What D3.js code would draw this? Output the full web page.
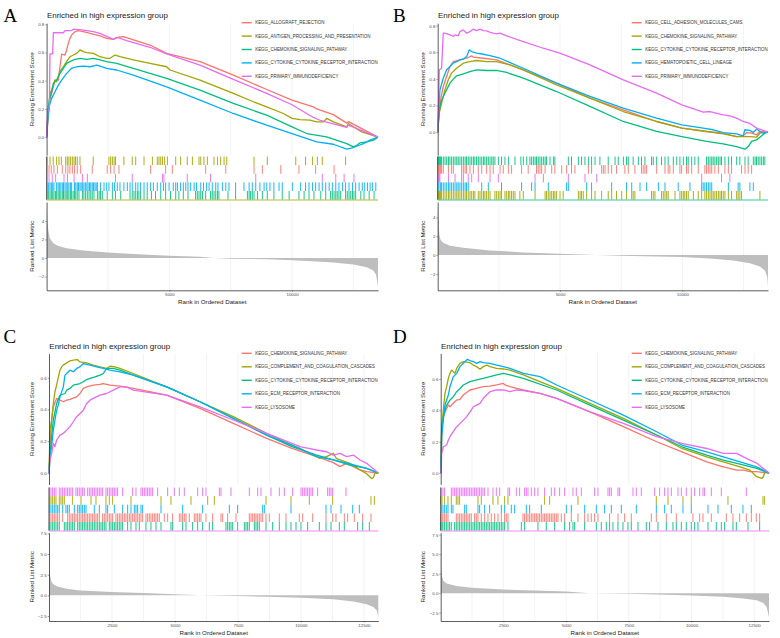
<!DOCTYPE html>
<html>
<head>
<meta charset="utf-8">
<script src="https://cdn.jsdelivr.net/npm/d3@7"></script>
<style>
body { margin: 0; background: #fff; }
svg text { font-family: "Liberation Sans", Arial, sans-serif; }
</style>
</head>
<body>
<div id="chart"></div>
<script>
// ---------- data (rank in ordered dataset, running ES / metric) ----------

// panel A
var namesA = ["KEGG_ALLOGRAFT_REJECTION", "KEGG_ANTIGEN_PROCESSING_AND_PRESENTATION", "KEGG_CHEMOKINE_SIGNALING_PATHWAY", "KEGG_CYTOKINE_CYTOKINE_RECEPTOR_INTERACTION", "KEGG_PRIMARY_IMMUNODEFICIENCY"];
var esA_allograft = [[1,0],[71,0.144],[139,0.263],[275,0.357],[343,0.404],[479,0.404],[546,0.499],[614,0.589],[750,0.582],[818,0.618],[886,0.665],[954,0.70],[1022,0.724],[1158,0.748],[1293,0.755],[1497,0.748],[1769,0.736],[2176,0.717],[2448,0.70],[2719,0.693],[2923,0.708],[3127,0.712],[4213,0.653],[4892,0.594],[6250,0.535],[7608,0.44],[8966,0.338],[9998,0.263],[10867,0.215],[11003,0.2],[11682,0.16],[12225,0.1],[12293,0.11],[13500,0]];
var esA_antigen = [[1,0],[71,0.192],[139,0.31],[207,0.334],[343,0.405],[411,0.393],[546,0.464],[682,0.499],[818,0.535],[954,0.57],[1090,0.582],[1225,0.594],[1361,0.618],[1497,0.606],[1633,0.599],[1904,0.594],[2176,0.57],[2448,0.559],[2583,0.559],[2787,0.582],[2991,0.57],[3534,0.547],[4213,0.523],[4892,0.499],[5028,0.476],[6250,0.405],[7608,0.31],[8423,0.251],[8966,0.215],[9645,0.168],[9998,0.133],[10324,0.125],[10731,0.121],[11003,0.109],[11275,0.109],[11410,0.133],[11682,0.109],[12225,0.073],[12293,0.097],[12836,0.038],[13500,0]];
var esA_chemokine = [[1,0],[71,0.215],[139,0.286],[207,0.322],[275,0.381],[411,0.405],[546,0.452],[682,0.488],[818,0.523],[954,0.535],[1090,0.547],[1361,0.559],[1633,0.551],[1904,0.559],[2176,0.547],[2448,0.535],[2855,0.523],[3534,0.488],[4892,0.417],[6250,0.334],[7608,0.239],[8966,0.156],[9998,0.073],[10596,0.026],[11410,0.002],[12225,-0.045],[12497,-0.069],[12633,-0.057],[12768,-0.04],[13040,-0.033],[13312,-0.021],[13500,0]];
var esA_cytokine = [[1,0],[71,0.192],[139,0.239],[207,0.275],[343,0.322],[479,0.369],[614,0.405],[818,0.452],[1022,0.488],[1225,0.499],[1497,0.504],[1769,0.499],[2040,0.511],[2176,0.504],[2448,0.488],[2855,0.476],[3534,0.44],[4892,0.357],[6250,0.263],[7608,0.168],[8966,0.085],[9998,0.026],[11003,-0.033],[11682,-0.05],[12225,-0.085],[12497,-0.073],[12904,-0.045],[13176,-0.021],[13500,0]];
var esA_primary = [[1,0],[44,0.19],[112,0.19],[139,0.59],[248,0.59],[275,0.74],[682,0.74],[750,0.755],[1022,0.755],[1090,0.765],[1429,0.76],[1633,0.755],[1904,0.748],[2176,0.736],[2719,0.693],[2855,0.708],[3262,0.684],[4213,0.637],[4892,0.59],[6250,0.511],[7608,0.41],[8966,0.31],[9998,0.23],[10867,0.14],[11139,0.12],[12225,0.07],[12293,0.085],[13500,0]];
var hitsA_allograft = [30,100,190,300,440,640,780,870,950,1050,1140,1250,1390,1860,2470,2610,2750,2950,4240,4850,5120,6480,7300,8450,8790,9540,10280,10960,11710];
var hitsA_antigen = [30,140,270,410,505,600,780,845,910,980,1050,1120,1180,1250,1360,1900,2540,2610,2680,2750,2810,3150,3490,3630,3970,4310,4510,4580,4650,4720,4810,4920,5260,5460,5730,5940,6210,6280,6410,6550,6820,6960,7090,7230,7340,8450,8990,10150,10550,10830,11030,11230,12180];
var hitsA_chemokine = [30,85,140,195,250,300,360,410,470,520,580,640,690,750,800,860,910,970,1020,1080,1140,1190,1250,1320,1460,1520,1590,1660,1730,1800,1860,1930,2070,2140,2200,2270,2470,2680,2810,3020,3400,3490,3560,3630,3700,3760,3830,3970,4100,4270,4440,4650,4850,5050,5260,5390,5570,5760,6070,6140,6210,6280,6350,6480,6680,6750,6820,6890,6960,7020,7390,7700,8180,8250,8310,8380,8450,8590,8790,8990,9260,9600,9880,10280,10490,10690,10890,11170,11370,11570,11640,11710,11780,11840,11910,11980,12180,12250,12320,12390,12460,12520,12590,12800,12930,13140,13340];
var hitsA_cytokine = [30,85,140,195,250,300,410,470,520,580,640,690,750,800,860,910,970,1020,1140,1190,1250,1300,1360,1410,1470,1520,1580,1640,1690,1750,1800,1860,1910,1970,2020,2070,2200,2340,2450,2540,2680,2770,2880,2990,3150,3290,3400,3490,3630,3720,3830,3970,4100,4240,4350,4510,4650,4760,4850,4990,5160,5260,5330,5460,5570,5670,5760,5870,6010,6110,6280,6390,6520,6620,6750,6890,6980,7160,7300,7430,7700,8040,8250,8380,8520,8690,8860,8970,9100,9260,9470,9600,10010,10350,10550,10690,10830,10960,11100,11230,11370,11510,11640,11780,11910,12050,12180,12320,12460,12590,12730,12860,12960,13070,13180,13270,13410];
var hitsA_primary = [30,100,230,370,710,850,1120,1460,1660,2810,3490,4720,4780,5730,6680,8520,11230,11780,12120,12520];
var metricA = [[1,5.6],[30,4.1],[71,3.0],[139,2.1],[275,1.6],[479,1.3],[818,1.04],[1497,0.8],[2475,0.6],[3534,0.43],[5001,0.25],[6250,0.14],[6793,0],[7500,-0.07],[8966,-0.14],[9998,-0.25],[11003,-0.39],[11682,-0.5],[12497,-0.71],[13040,-1.0],[13312,-1.36],[13420,-1.8],[13500,-3.05]];

// panel B
var namesB = ["KEGG_CELL_ADHESION_MOLECULES_CAMS", "KEGG_CHEMOKINE_SIGNALING_PATHWAY", "KEGG_CYTOKINE_CYTOKINE_RECEPTOR_INTERACTION", "KEGG_HEMATOPOIETIC_CELL_LINEAGE", "KEGG_PRIMARY_IMMUNODEFICIENCY"];
var esB_cams = [[1,0],[66,0.168],[120,0.243],[229,0.343],[365,0.418],[502,0.493],[638,0.53],[910,0.543],[1183,0.555],[1387,0.573],[1455,0.563],[1864,0.555],[2408,0.543],[2953,0.505],[3498,0.468],[4860,0.368],[6222,0.255],[7584,0.168],[8946,0.08],[9981,0.03],[10989,0.005],[11670,-0.008],[12215,-0.033],[12487,-0.028],[12623,-0.003],[12828,-0.008],[13032,-0.02],[13168,0.005],[13500,0]];
var esB_chemokine = [[1,0],[66,0.143],[161,0.218],[297,0.318],[434,0.393],[570,0.443],[774,0.48],[1046,0.518],[1319,0.53],[1591,0.538],[2000,0.53],[2408,0.53],[2953,0.505],[3498,0.468],[4860,0.355],[6222,0.255],[7584,0.155],[8946,0.08],[9981,0.03],[10989,0.005],[11670,-0.013],[12215,-0.033],[12760,-0.033],[13032,-0.038],[13168,-0.008],[13500,0]];
var esB_cytokine = [[1,0],[52,0.143],[120,0.218],[229,0.268],[365,0.318],[502,0.368],[638,0.398],[774,0.423],[1046,0.438],[1319,0.455],[1591,0.468],[2000,0.463],[2408,0.463],[2817,0.448],[3498,0.405],[4860,0.305],[6222,0.193],[7584,0.08],[8946,0.005],[9981,-0.033],[10989,-0.07],[11670,-0.088],[12215,-0.108],[12555,-0.128],[12692,-0.108],[12828,-0.07],[13032,-0.058],[13168,-0.038],[13373,-0.008],[13500,0]];
var esB_hematopoietic = [[1,0],[52,0.193],[93,0.318],[229,0.405],[365,0.468],[502,0.493],[638,0.518],[774,0.53],[910,0.543],[1046,0.548],[1183,0.568],[1292,0.618],[1387,0.605],[1591,0.593],[1864,0.585],[2136,0.575],[2545,0.555],[3498,0.48],[4860,0.368],[6222,0.268],[7584,0.18],[8946,0.105],[9981,0.055],[10853,0.03],[11261,0.018],[11670,-0.003],[12215,-0.013],[12487,-0.028],[12555,0.018],[12760,0.013],[12896,-0.003],[13032,0.023],[13168,0.005],[13304,-0.008],[13500,0]];
var esB_primary = [[1,0],[38,0.243],[66,0.468],[161,0.48],[229,0.743],[297,0.743],[502,0.73],[638,0.718],[706,0.73],[842,0.723],[910,0.755],[1046,0.768],[1183,0.743],[1319,0.755],[1455,0.773],[1591,0.763],[1727,0.773],[1864,0.763],[2000,0.76],[2136,0.75],[2272,0.743],[2408,0.738],[2545,0.743],[2817,0.723],[3498,0.68],[4315,0.63],[4996,0.593],[6222,0.505],[7584,0.393],[8946,0.293],[9981,0.205],[10853,0.15],[11125,0.155],[11670,0.13],[11942,0.123],[12215,0.105],[12487,0.08],[12760,0.065],[13032,0.03],[13500,0]];
var hitsB_cams = [10,30,60,90,110,160,230,440,570,640,980,1050,1120,1180,1320,1460,1660,1800,2000,2140,2270,2550,2680,2890,3020,3430,3700,4040,4110,4180,4250,4390,4660,4790,5070,5270,5470,5610,6160,6290,6700,6770,6840,6970,7110,7310,7650,7790,8060,8330,8400,8470,8540,8950,9290,9420,9490,9630,9900,9970,10170,10240,10380,10650,10920,10990,11060,11130,11200,11330,11470,11740,11880,12010,12420,12560,12690,12830];
var hitsB_chemokine = [10,30,60,90,110,160,230,300,370,440,500,570,640,710,780,840,910,980,1050,1120,1180,1250,1320,1390,1460,1520,1660,1730,1800,1870,1930,2000,2070,2140,2340,2410,2480,2550,2610,2750,2820,2890,2950,3020,3090,3160,3360,3500,3980,4390,4450,4520,4590,4660,4730,4790,4860,5000,5130,5750,5820,5880,5950,6090,6290,6430,6700,6970,7110,7310,7520,7720,7930,7990,8060,8740,8810,8880,9150,9220,9290,9360,9420,9700,9900,9970,10040,10100,10170,10240,10450,10650,10790,10920,10990,11060,11130,11200,11260,11330,11400,11470,11540,11600,11670,11740,11880,12010,12220,12280,12350,12420,13170];
var hitsB_cytokine = [10,30,60,90,110,160,230,300,370,440,500,570,640,710,780,840,910,980,1050,1120,1180,1250,1320,1390,1460,1520,1590,1660,1730,1800,1870,1930,2000,2070,2140,2210,2270,2340,2480,2610,2750,2890,3160,3400,3500,3640,3770,3840,3910,3980,4040,4110,4180,4250,4320,4390,4450,4590,4730,4790,5340,5470,5750,5880,6020,6160,6290,6430,6630,6970,7250,7380,7590,7720,7790,7990,8200,8330,8470,8740,8810,8950,9150,9290,9420,9630,9770,9900,10040,10170,10240,10380,10510,10650,10990,11060,11130,11200,11260,11330,11400,11470,11540,11600,11740,11880,12010,12220,12350,12560,12690,12900,12970,13030,13100,13170,13240,13310,13370];
var hitsB_hematopoietic = [10,50,110,160,230,300,370,440,500,570,640,710,780,840,910,980,1050,1120,1180,1250,1800,2070,2610,3430,3840,3980,4520,5270,5340,6090,6290,7110,7720,7930,8270,8540,9020,9290,9830,10310,10790,10850,10920,10990,11060,11130,11200,11880,12280,12350,12760,12900];
var hitsB_primary = [10,30,60,90,440,710,980,1050,1250,1390,1660,2140,2480,3980,4320,5340,6020,6500,10790,11600,11940];
var metricB = [[1,5.2],[25,4.0],[66,2.2],[120,1.6],[229,1.3],[502,1.0],[1046,0.79],[2136,0.5],[3498,0.29],[4996,0.14],[6494,0],[7489,-0.07],[8946,-0.14],[9995,-0.21],[11125,-0.36],[12079,-0.57],[12760,-0.86],[13168,-1.2],[13373,-1.64],[13468,-2.3],[13500,-3.3]];

// panel C
var namesC = ["KEGG_CHEMOKINE_SIGNALING_PATHWAY", "KEGG_COMPLEMENT_AND_COAGULATION_CASCADES", "KEGG_CYTOKINE_CYTOKINE_RECEPTOR_INTERACTION", "KEGG_ECM_RECEPTOR_INTERACTION", "KEGG_LYSOSOME"];
var esC_chemokine = [[1,0],[40,0.166],[106,0.334],[172,0.417],[304,0.47],[436,0.459],[569,0.449],[701,0.459],[833,0.464],[1098,0.48],[1230,0.501],[1363,0.533],[1495,0.543],[1759,0.554],[2024,0.558],[2156,0.564],[2421,0.554],[2818,0.548],[3347,0.533],[4670,0.491],[5993,0.407],[7316,0.313],[8639,0.218],[9644,0.155],[10624,0.103],[11285,0.065],[11550,0.04],[11814,0.061],[12079,0.04],[12343,0.019],[12608,0.008],[13070,0]];
var esC_complement = [[1,0],[40,0.27],[106,0.334],[172,0.438],[238,0.512],[304,0.554],[370,0.602],[436,0.648],[503,0.669],[569,0.68],[701,0.694],[833,0.707],[966,0.711],[1124,0.715],[1230,0.70],[1495,0.694],[1759,0.68],[2024,0.669],[2289,0.659],[2421,0.673],[2619,0.669],[2818,0.659],[3347,0.627],[4670,0.543],[5993,0.449],[7316,0.355],[8639,0.25],[9644,0.176],[9962,0.155],[10756,0.092],[11020,0.103],[11285,0.124],[11417,0.09],[11947,0.06],[12343,0.02],[12608,-0.005],[12806,-0.035],[12873,-0.03],[12939,0],[13070,0]];
var esC_cytokine = [[1,0],[40,0.124],[106,0.229],[172,0.334],[304,0.438],[436,0.491],[635,0.501],[701,0.522],[833,0.533],[966,0.554],[1230,0.564],[1363,0.575],[1495,0.589],[1627,0.596],[1826,0.606],[2024,0.617],[2156,0.627],[2289,0.659],[2553,0.659],[2818,0.648],[3347,0.617],[4670,0.543],[5993,0.449],[7316,0.344],[8639,0.239],[9644,0.166],[10624,0.113],[11285,0.082],[11947,0.05],[12608,0.029],[13070,0]];
var esC_ecm = [[1,0],[40,0.103],[106,0.166],[172,0.27],[238,0.334],[304,0.396],[370,0.428],[436,0.48],[569,0.543],[635,0.617],[701,0.627],[833,0.648],[966,0.638],[1098,0.659],[1230,0.669],[1363,0.69],[1627,0.68],[1892,0.669],[2156,0.659],[2421,0.648],[2818,0.638],[3347,0.617],[4670,0.543],[5993,0.449],[7316,0.344],[8639,0.239],[9644,0.176],[10624,0.103],[11285,0.082],[11947,0.057],[12608,0.029],[13070,0]];
var esC_lysosome = [[1,0],[40,0.082],[106,0.124],[172,0.187],[238,0.166],[304,0.208],[436,0.239],[569,0.25],[701,0.27],[833,0.292],[966,0.323],[1098,0.355],[1230,0.375],[1363,0.396],[1495,0.438],[1627,0.459],[1759,0.47],[2024,0.491],[2289,0.501],[2553,0.522],[2818,0.543],[3082,0.543],[3347,0.522],[4009,0.506],[4670,0.491],[5993,0.417],[7316,0.334],[8639,0.25],[9644,0.187],[9962,0.166],[10624,0.145],[11020,0.134],[11285,0.113],[11550,0.124],[11814,0.103],[12079,0.113],[12343,0.082],[12608,0.061],[13070,0]];
var hitsC_chemokine = [13,79,146,212,278,344,410,543,741,807,873,939,1006,1072,1138,1204,1270,1336,1402,1469,1535,1601,1667,1733,1799,1866,1932,1998,2130,2196,2262,2329,2395,2461,2527,2659,2725,2792,2858,2924,2990,3056,3122,3189,3255,3321,3387,3453,3519,3585,3652,3718,3850,3916,3982,4048,4115,4181,4247,4313,4379,4578,4710,4908,5173,5239,5305,5371,5438,5570,5768,5835,5901,5967,6033,6231,6496,6827,6893,7091,7422,7951,8017,8084,8150,8216,8282,8348,8414,8481,8613,8745,9142,9407,9936,10068,10465,10994,11259,11391,11722,11854,12119,12450,12780];
var hitsC_complement = [13,79,146,212,278,410,476,543,609,939,1270,1667,1866,2262,2395,2527,3255,4445,4842,5636,6298,6562,8613,9605,10333,11259,12780,12913];
var hitsC_cytokine = [13,79,146,212,278,344,410,609,675,741,807,873,939,1006,1138,1204,1270,1336,1402,1469,1535,1601,1667,1733,1799,1866,1932,1998,2064,2130,2196,2262,2395,2461,2527,2593,2659,2725,2792,2858,2924,3122,3255,3453,3585,3850,4048,4247,4445,4842,4908,5305,5438,5702,5901,6099,6364,6496,7025,7091,7158,7224,7290,7488,7753,7819,7885,7951,8150,8216,8282,8348,8613,8877,9142,9407,9605,9804,10002,10266,10730,10994,11193,11523,11722,12251,12450,12714];
var hitsC_ecm = [13,79,146,212,278,344,410,543,675,741,807,1006,1138,1204,1270,1336,1402,1469,1799,1998,2262,2329,2593,2924,3122,3255,3387,3453,3519,3652,3718,4445,5305,6099,7158,7488,8481,8547,9605,10994,11193,11590,12053,12317];
var hitsC_lysosome = [13,79,146,212,278,410,476,543,609,675,741,807,873,939,1072,1138,1204,1270,1336,1402,1535,1601,1667,1733,1799,1866,1932,1998,2064,2130,2262,2329,2395,2461,2527,2593,2659,2725,2924,3321,3453,3652,3718,3784,3850,3916,3982,4048,4115,4313,4710,4975,5173,5371,5901,6099,6231,6761,6827,7224,7951,8282,8414,8811,9142,9340,9671,10002,10068,10134,10200,10266,10333,10399,10465,10663,11060,11127,11193,11259,11788];
var metricC = [[1,7.1],[15,3.2],[40,2.4],[106,1.6],[172,1.33],[304,1.09],[701,0.81],[1230,0.6],[2500,0.4],[3744,0.28],[5000,0.12],[5993,0],[7501,-0.08],[8639,-0.16],[10002,-0.28],[11285,-0.48],[12079,-0.73],[12608,-1.09],[12873,-1.41],[13005,-1.81],[13070,-2.62]];

// panel D
var namesD = ["KEGG_CHEMOKINE_SIGNALING_PATHWAY", "KEGG_COMPLEMENT_AND_COAGULATION_CASCADES", "KEGG_CYTOKINE_CYTOKINE_RECEPTOR_INTERACTION", "KEGG_ECM_RECEPTOR_INTERACTION", "KEGG_LYSOSOME"];
var esD_chemokine = [[1,0],[30,0.17],[39,0.274],[105,0.36],[238,0.413],[305,0.434],[371,0.423],[504,0.445],[637,0.466],[770,0.47],[903,0.498],[1169,0.53],[1434,0.54],[1700,0.551],[1966,0.555],[2232,0.562],[2498,0.572],[2564,0.562],[2763,0.551],[3029,0.54],[3295,0.53],[3960,0.509],[4624,0.477],[5953,0.391],[7282,0.296],[8611,0.2],[9621,0.136],[10605,0.072],[11269,0.04],[11801,0.019],[12066,0.019],[12332,0.009],[12598,0.009],[13090,0]];
var esD_complement = [[1,0],[30,0.232],[39,0.296],[105,0.402],[172,0.509],[238,0.551],[305,0.604],[371,0.636],[438,0.657],[571,0.636],[637,0.668],[770,0.70],[903,0.711],[1169,0.704],[1302,0.689],[1434,0.679],[1567,0.662],[1700,0.679],[1833,0.689],[1966,0.679],[2232,0.668],[2498,0.664],[2763,0.657],[3295,0.626],[4624,0.54],[5953,0.445],[7282,0.349],[8611,0.243],[9621,0.157],[10605,0.104],[11269,0.072],[11934,0.04],[12332,0.019],[12598,-0.023],[12798,-0.034],[12864,-0.023],[12931,0.009],[13090,0]];
var esD_cytokine = [[1,0],[30,0.126],[39,0.274],[105,0.36],[172,0.402],[238,0.434],[371,0.466],[504,0.487],[637,0.519],[770,0.54],[903,0.562],[1169,0.583],[1434,0.594],[1700,0.604],[1966,0.615],[2232,0.626],[2498,0.636],[2763,0.626],[3295,0.604],[4624,0.53],[5953,0.434],[7282,0.338],[8611,0.243],[9621,0.168],[10605,0.115],[11269,0.083],[11934,0.057],[12598,0.03],[13090,0]];
var esD_ecm = [[1,0],[30,0.126],[39,0.232],[105,0.338],[172,0.434],[238,0.466],[305,0.498],[371,0.551],[504,0.615],[637,0.636],[770,0.679],[903,0.70],[1062,0.726],[1169,0.717],[1302,0.711],[1434,0.70],[1567,0.711],[1700,0.704],[1966,0.70],[2232,0.689],[2498,0.679],[2763,0.668],[3295,0.636],[3960,0.615],[4624,0.562],[5953,0.466],[7282,0.37],[8611,0.264],[9621,0.179],[10605,0.136],[11269,0.104],[11934,0.072],[12598,0.04],[13090,0]];
var esD_lysosome = [[1,0],[30,0.061],[39,0.126],[105,0.168],[238,0.179],[305,0.211],[371,0.232],[504,0.264],[637,0.296],[770,0.317],[903,0.338],[1036,0.36],[1169,0.391],[1302,0.423],[1434,0.434],[1567,0.445],[1700,0.477],[1833,0.498],[1966,0.519],[2232,0.53],[2498,0.53],[2763,0.519],[3029,0.53],[3295,0.526],[3960,0.509],[4624,0.477],[5953,0.391],[7282,0.317],[8611,0.232],[9621,0.189],[10605,0.157],[11269,0.126],[11801,0.126],[12066,0.104],[12332,0.083],[12598,0.064],[13090,0]];
var hitsD_chemokine = [5,51,91,158,224,291,623,689,756,822,889,955,1022,1088,1155,1221,1354,1420,1487,1620,1753,1886,2018,2151,2284,2417,2550,2616,2683,3281,3347,3414,3480,3547,3613,3680,3746,3813,3879,3945,4012,4078,4145,4211,4278,4344,4411,4477,4544,4610,4676,4809,4942,5208,5474,5740,5873,6005,6138,6271,6736,7069,7334,7600,8398,8597,8996,9394,10059,10325,10458,10790,11388,11654,11919,12185,12385,12584,12717];
var hitsD_complement = [5,51,158,291,424,623,689,756,1487,1620,2085,2284,2550,2683,4145,4344,5474,8597,9062,9660,9992,11454,12850,12916];
var hitsD_cytokine = [5,51,91,158,224,291,357,424,557,623,689,756,822,889,955,1022,1088,1155,1221,1287,1354,1420,1487,1553,1620,1686,1753,1819,1886,1952,2018,2085,2151,2218,2284,2351,2417,2484,2550,2683,3215,3347,3879,4211,4544,4942,5142,5274,5341,5740,6205,6404,6603,6736,6869,7069,7268,7467,7600,7866,8198,8331,8663,8996,9261,9394,9594,9793,9992,10125,10258,10657,10989,11189,11321,11654,11787,12252,12717];
var hitsD_ecm = [25,91,158,224,291,424,490,955,1022,1487,1553,1753,1952,2417,2550,2816,2949,3414,3547,4012,5009,5208,5740,6205,6537,6803,7202,7800,8597,8929,9195,9660,9992,10657,11056,11587,12052,12385];
var hitsD_lysosome = [25,91,158,424,490,557,623,689,756,822,889,955,1022,1088,1155,1221,1287,1354,1420,1487,1553,1620,1686,1753,1886,2085,2218,2351,2683,2749,3015,3148,3347,3414,3480,3613,3746,3879,4145,4411,4544,4743,4942,5274,5407,5607,6138,6271,6670,6736,6803,7069,7135,7667,7800,7999,8531,8730,8929,9062,9195,9461,9594,9793,9992,10125,10325,10458,10524,10790,11189,12185];
var metricD = [[1,7.24],[15,3.4],[39,2.3],[105,1.6],[238,1.25],[637,0.9],[1235,0.69],[2498,0.47],[3734,0.34],[4996,0.22],[5953,0],[7495,-0.09],[8611,-0.17],[9993,-0.3],[11269,-0.47],[12066,-0.69],[12598,-0.9],[12864,-1.25],[12997,-1.77],[13090,-3.06]];

// axis ticks
var esTicksAB = [0, 0.2, 0.4, 0.6, 0.8];
var esTicksCD = [0, 0.2, 0.4, 0.6];
var metricTicksAB = [-2, 0, 2, 4];
var metricTicksCD = [-2.5, 0, 2.5, 5, 7.5];
var rankTicksAB = [5000, 10000];
var rankTicksCD = [2500, 5000, 7500, 10000, 12500];
var gridAB = [2500, 5000, 7500, 10000, 12500];
var gridCD = [1250, 2500, 3750, 5000, 6250, 7500, 8750, 10000, 11250, 12500];

// ggplot hue palette
var palette = ["#F8766D", "#A3A500", "#00BF7D", "#00B0F6", "#E76BF3"];

// ---------- drawing ----------
var svg = d3.select("#chart").append("svg")
    .attr("width", 780)
    .attr("height", 638);

GseaPanel = function(_layout, _names, _es, _hits, _rugOrder, _metric, _nGenes, _ticks) {
    var vis = this;
    this.L = _layout;
    this.names = _names;
    this.es = _es;
    this.hits = _hits;
    this.rugOrder = _rugOrder;
    this.metric = _metric;
    this.nGenes = _nGenes;
    this.ticks = _ticks;
    this.initVis();
};

GseaPanel.prototype.initVis = function() {
    var vis = this;
    var L = vis.L;

    vis.g = svg.append("g");

    vis.x = d3.scaleLinear()
        .domain([1, vis.nGenes])
        .range([L.left, L.right]);

    // running ES scale, 5% padding like ggplot
    var esVals = [];
    vis.es.forEach(function(s) { s.forEach(function(d) { esVals.push(d[1]); }); });
    var esExt = d3.extent(esVals);
    var esPad = (esExt[1] - esExt[0]) * 0.05;
    vis.yEs = d3.scaleLinear()
        .domain([esExt[0] - esPad, esExt[1] + esPad])
        .range([L.esBottom, L.esTop]);

    var mExt = d3.extent(vis.metric, function(d) { return d[1]; });
    var mPad = (mExt[1] - mExt[0]) * 0.05;
    vis.yMet = d3.scaleLinear()
        .domain([mExt[0] - mPad, mExt[1] + mPad])
        .range([L.metBottom, L.metTop]);

    vis.rowY = d3.scaleBand()
        .domain(d3.range(vis.rugOrder.length))
        .range([L.rugTop, L.rugBottom]);

    vis.drawGrid();
    vis.drawEs();
    vis.drawRug();
    vis.drawMetric();
    vis.drawText();
};

GseaPanel.prototype.drawGrid = function() {
    var vis = this;
    var L = vis.L;
    [[L.esTop, L.esBottom], [L.metTop, L.metBottom]].forEach(function(r) {
        vis.g.append("g").selectAll("line")
            .data(vis.ticks.grid)
            .enter().append("line")
            .attr("x1", function(d) { return vis.x(d); })
            .attr("x2", function(d) { return vis.x(d); })
            .attr("y1", r[0])
            .attr("y2", r[1])
            .attr("stroke", "#EBEBEB")
            .attr("stroke-width", 0.6);
    });
};

function styleAxis(sel) {
    sel.attr("font-size", null).attr("font-family", null);
    sel.select(".domain").attr("stroke", "#333").attr("stroke-width", 0.8);
    sel.selectAll(".tick line").attr("stroke", "#333").attr("stroke-width", 0.5);
    sel.selectAll(".tick text")
        .attr("fill", "#4D4D4D")
        .style("font-size", "4.4px");
}

GseaPanel.prototype.drawEs = function() {
    var vis = this;
    var L = vis.L;

    var line = d3.line()
        .x(function(d) { return vis.x(d[0]); })
        .y(function(d) { return vis.yEs(d[1]); });

    vis.g.append("g").selectAll("path")
        .data(vis.es)
        .enter().append("path")
        .attr("d", line)
        .attr("fill", "none")
        .attr("stroke", function(d, i) { return palette[i]; })
        .attr("stroke-width", 1.3)
        .attr("stroke-linejoin", "round");

    var yAxis = d3.axisLeft(vis.yEs)
        .tickValues(vis.ticks.es)
        .tickFormat(d3.format(".1f"))
        .tickSize(1.3)
        .tickSizeOuter(0)
        .tickPadding(1);
    vis.g.append("g")
        .attr("transform", "translate(" + L.left + ",0)")
        .call(yAxis)
        .call(styleAxis);

    // legend
    var leg = vis.g.append("g");
    vis.names.forEach(function(n, i) {
        var yy = L.legY + i * L.legStep;
        leg.append("line")
            .attr("x1", L.legX).attr("x2", L.legX + 10)
            .attr("y1", yy).attr("y2", yy)
            .attr("stroke", palette[i])
            .attr("stroke-width", 1.4);
        leg.append("text")
            .attr("x", L.legX + 13.5)
            .attr("y", yy)
            .attr("dy", "0.35em")
            .attr("fill", "#333")
            .style("font-size", "4.45px")
            .text(n);
    });
};

GseaPanel.prototype.drawRug = function() {
    var vis = this;
    var L = vis.L;
    var bw = vis.rowY.bandwidth();

    vis.rugOrder.forEach(function(setIdx, row) {
        vis.g.append("g").selectAll("line")
            .data(vis.hits[setIdx])
            .enter().append("line")
            .attr("x1", function(d) { return vis.x(d); })
            .attr("x2", function(d) { return vis.x(d); })
            .attr("y1", vis.rowY(row))
            .attr("y2", vis.rowY(row) + bw)
            .attr("stroke", palette[setIdx])
            .attr("stroke-width", 0.9);
    });

    vis.g.append("line")
        .attr("x1", L.left).attr("x2", L.right)
        .attr("y1", L.rugBottom + 0.4).attr("y2", L.rugBottom + 0.4)
        .attr("stroke", palette[vis.rugOrder[0]])
        .attr("stroke-width", 0.8);

    vis.g.append("line")
        .attr("x1", L.left).attr("x2", L.left)
        .attr("y1", L.rugTop).attr("y2", L.rugBottom)
        .attr("stroke", "#333")
        .attr("stroke-width", 0.8);
};

GseaPanel.prototype.drawMetric = function() {
    var vis = this;
    var L = vis.L;

    var area = d3.area()
        .x(function(d) { return vis.x(d[0]); })
        .y0(vis.yMet(0))
        .y1(function(d) { return vis.yMet(d[1]); });

    vis.g.append("path")
        .datum(vis.metric)
        .attr("d", area)
        .attr("fill", "#BEBEBE");

    var yAxis = d3.axisLeft(vis.yMet)
        .tickValues(vis.ticks.metric)
        .tickFormat(vis.ticks.metricFormat)
        .tickSize(1.3)
        .tickSizeOuter(0)
        .tickPadding(1);
    vis.g.append("g")
        .attr("transform", "translate(" + L.left + ",0)")
        .call(yAxis)
        .call(styleAxis);

    var xAxis = d3.axisBottom(vis.x)
        .tickValues(vis.ticks.rank)
        .tickFormat(d3.format("d"))
        .tickSize(1.3)
        .tickSizeOuter(0)
        .tickPadding(1.2);
    vis.g.append("g")
        .attr("transform", "translate(0," + L.metBottom + ")")
        .call(xAxis)
        .call(styleAxis);
};

GseaPanel.prototype.drawText = function() {
    var vis = this;
    var L = vis.L;

    vis.g.append("text")
        .attr("x", L.letterX).attr("y", L.letterY)
        .style("font-family", "'Liberation Serif', 'Times New Roman', serif")
        .style("font-size", "19px")
        .attr("fill", "#000")
        .text(L.letter);

    vis.g.append("text")
        .attr("x", L.left + 0.3).attr("y", L.titleY)
        .style("font-size", "8px")
        .attr("fill", "#1A1A1A")
        .text("Enriched in high expression group");

    var esMid = (L.esTop + L.esBottom) / 2;
    vis.g.append("text")
        .attr("transform", "translate(" + L.yTitleX + "," + esMid + ") rotate(-90)")
        .attr("text-anchor", "middle")
        .attr("dy", "0.35em")
        .style("font-size", "6.2px")
        .attr("fill", "#1A1A1A")
        .text("Running Enrichment Score");

    var mMid = (L.metTop + L.metBottom) / 2;
    vis.g.append("text")
        .attr("transform", "translate(" + L.yTitleX + "," + mMid + ") rotate(-90)")
        .attr("text-anchor", "middle")
        .attr("dy", "0.35em")
        .style("font-size", "6.2px")
        .attr("fill", "#1A1A1A")
        .text("Ranked List Metric");

    vis.g.append("text")
        .attr("x", (L.left + L.right) / 2)
        .attr("y", L.xTitleY)
        .attr("text-anchor", "middle")
        .style("font-size", "6.2px")
        .attr("fill", "#1A1A1A")
        .text("Rank in Ordered Dataset");
};

var ticksAB = { es: esTicksAB, metric: metricTicksAB, metricFormat: d3.format("d"), rank: rankTicksAB, grid: gridAB };
var ticksCD = { es: esTicksCD, metric: metricTicksCD, metricFormat: d3.format(".1f"), rank: rankTicksCD, grid: gridCD };

new GseaPanel(
    { letter: "A", letterX: 3.5, letterY: 22, left: 46.6, right: 378, titleY: 17.7,
      esTop: 23.2, esBottom: 155.2, rugTop: 156.5, rugBottom: 199.6, metTop: 202, metBottom: 290.3,
      yTitleX: 32.3, xTitleY: 304.3, legX: 241.7, legY: 22.7, legStep: 13.4 },
    namesA,
    [esA_allograft, esA_antigen, esA_chemokine, esA_cytokine, esA_primary],
    [hitsA_allograft, hitsA_antigen, hitsA_chemokine, hitsA_cytokine, hitsA_primary],
    [1, 0, 4, 3, 2], metricA, 13500, ticksAB);

new GseaPanel(
    { letter: "B", letterX: 393, letterY: 21.5, left: 437.7, right: 768, titleY: 17.7,
      esTop: 23.2, esBottom: 155.2, rugTop: 156.5, rugBottom: 199.6, metTop: 202, metBottom: 290.3,
      yTitleX: 423.3, xTitleY: 304.3, legX: 631.7, legY: 22.7, legStep: 13.4 },
    namesB,
    [esB_cams, esB_chemokine, esB_cytokine, esB_hematopoietic, esB_primary],
    [hitsB_cams, hitsB_chemokine, hitsB_cytokine, hitsB_hematopoietic, hitsB_primary],
    [2, 0, 4, 3, 1], metricB, 13500, ticksAB);

new GseaPanel(
    { letter: "C", letterX: 3.5, letterY: 343, left: 49, right: 378.3, titleY: 348.7,
      esTop: 353.6, esBottom: 484.5, rugTop: 487.5, rugBottom: 530.6, metTop: 532.7, metBottom: 621,
      yTitleX: 32.3, xTitleY: 634.5, legX: 241.7, legY: 353.3, legStep: 13.5 },
    namesC,
    [esC_chemokine, esC_complement, esC_cytokine, esC_ecm, esC_lysosome],
    [hitsC_chemokine, hitsC_complement, hitsC_cytokine, hitsC_ecm, hitsC_lysosome],
    [4, 1, 3, 0, 2], metricC, 13070, ticksCD);

new GseaPanel(
    { letter: "D", letterX: 393, letterY: 343, left: 440.7, right: 769, titleY: 348.7,
      esTop: 353.3, esBottom: 484.4, rugTop: 487.5, rugBottom: 530.6, metTop: 532.7, metBottom: 621,
      yTitleX: 423, xTitleY: 634.5, legX: 631.7, legY: 353.3, legStep: 13.5 },
    namesD,
    [esD_chemokine, esD_complement, esD_cytokine, esD_ecm, esD_lysosome],
    [hitsD_chemokine, hitsD_complement, hitsD_cytokine, hitsD_ecm, hitsD_lysosome],
    [4, 1, 3, 0, 2], metricD, 13090, ticksCD);
</script>
</body>
</html>
